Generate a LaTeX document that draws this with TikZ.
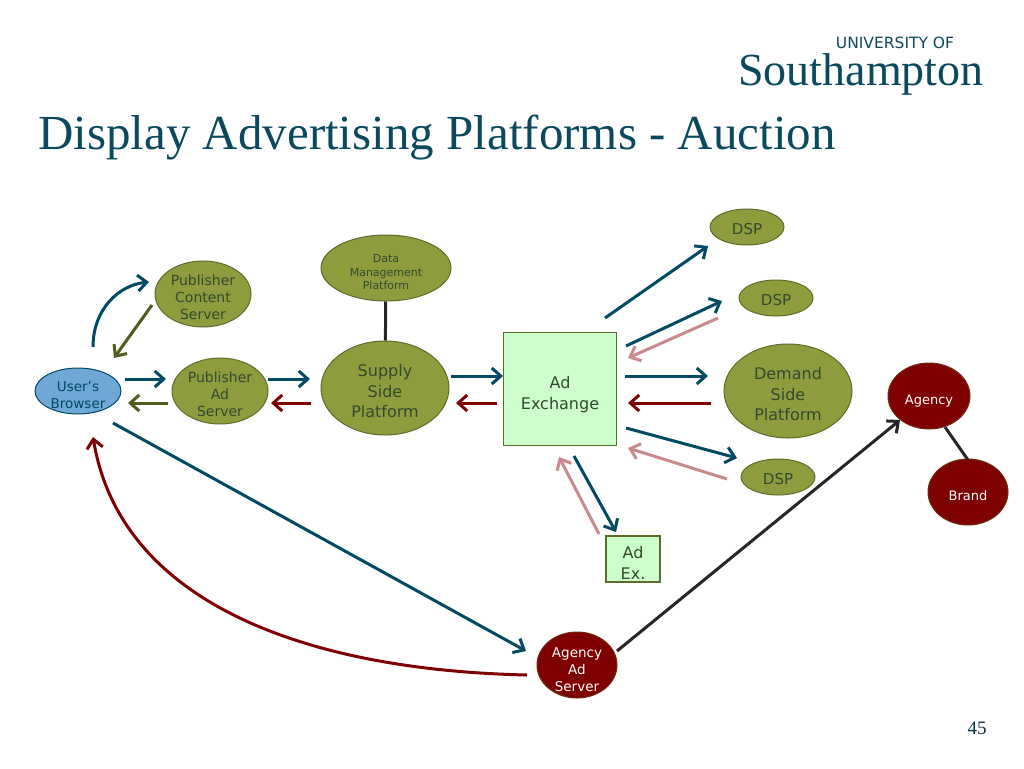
\documentclass[tikz,border=0pt]{standalone}
\usepackage{amsmath}
\usepackage{amssymb}
\usepackage{xcolor}
\usepackage{fontspec}
\setmainfont{DejaVu Sans}
\newfontfamily\titlefont{Liberation Serif}
\usetikzlibrary{shapes.geometric,arrows.meta}
\definecolor{tealline}{HTML}{004B63}
\definecolor{oliveline}{HTML}{4F5B1F}
\definecolor{redline}{HTML}{7F0000}
\definecolor{pinkline}{HTML}{C98A8E}
\definecolor{olivefill}{HTML}{8E9C3E}
\definecolor{oliveedge}{HTML}{5E6B2A}
\definecolor{bluefill}{HTML}{6FA8D6}
\definecolor{greenfill}{HTML}{CCFFCC}
\definecolor{nodetext}{HTML}{34492F}
\definecolor{titletext}{HTML}{0B4A5E}
\newcommand{\textdrop}[1]{\rule{0pt}{#1em}}
\tikzset{
  >={Straight Barb[length=9pt,width=16pt,line width=3pt]},
  arrowline/.style={->,line width=3pt},
  oval/.style={ellipse,draw=oliveedge,fill=olivefill,line width=1pt,inner xsep=0pt,inner ysep=-8pt,align=center,text=nodetext},
  redoval/.style={oval,draw=oliveedge!40!redline,fill=redline,text=white},
  box/.style={rectangle,draw=oliveedge,fill=greenfill,line width=1.3pt,inner sep=0pt,align=center,text=nodetext},
  nodesize/.style n args={4}{minimum width=#1pt,minimum height=#2pt,font=\fontsize{#3}{#4}\selectfont},
}
\begin{document}
\begin{tikzpicture}[x=1pt,y=-1pt]
      \useasboundingbox [fill=white] (0,0) rectangle (1024,768);
      \node (logotop) at (895,43) [text=titletext,inner sep=0pt,font=\fontsize{15.5}{18}\selectfont] {UNIVERSITY OF};
      \node (logomain) at (861,74) [text=titletext,inner sep=0pt,font=\titlefont\fontsize{46}{48}\selectfont] {Southampton};
      \node (title) at (38,138) [anchor=west,inner sep=0pt,text=titletext,font=\titlefont\fontsize{49}{51}\selectfont] {Display Advertising Platforms - Auction};
      \node (pagenum) at (977,728) [text=titletext!70!black,font=\titlefont\fontsize{19}{20}\selectfont] {45};

      \node (browser) at (78,391) [oval,fill=bluefill,draw=tealline,nodesize={86}{46}{13.5}{17},text=tealline] {\textdrop{1.35}User's\\Browser};
      \node (pubcontent) at (203,294) [oval,nodesize={96}{66}{14}{17}] {\textdrop{1.2}Publisher\\Content\\Server};
      \node (pubad) at (220,391) [oval,nodesize={96}{66}{14}{17}] {\textdrop{1.2}Publisher\\Ad\\Server};
      \node (dmp) at (386,268) [oval,nodesize={130}{66}{11}{13.5}] {\textdrop{1.5}Data\\Management\\Platform};
      \node (ssp) at (385,388) [oval,nodesize={128}{94}{16}{20.5}] {\textdrop{1.15}Supply\\Side\\Platform};
      \node (adx) at (560,389) [box,nodesize={113}{113}{16}{21}] {\textdrop{1.5}Ad\\Exchange};
      \node (dspa) at (747,227) [oval,nodesize={74}{36}{15}{18}] {\textdrop{1}DSP};
      \node (dspb) at (776,298) [oval,nodesize={74}{36}{15}{18}] {\textdrop{1}DSP};
      \node (dspc) at (778,477) [oval,nodesize={74}{36}{15}{18}] {\textdrop{1}DSP};
      \node (demand) at (788,391) [oval,nodesize={128}{94}{16}{20.5}] {\textdrop{1.15}Demand\\Side\\Platform};
      \node (agency) at (929,396) [redoval,nodesize={82}{66}{13}{17}] {\textdrop{1.5}Agency};
      \node (brand) at (968,492) [redoval,nodesize={80}{66}{13}{17}] {\textdrop{1.25}Brand};
      \node (adexb) at (633,559) [box,nodesize={54}{46}{16}{21}] {\textdrop{1.25}Ad\\Ex.};
      \node (agencyad) at (577,665) [redoval,nodesize={80}{66}{13.5}{17}] {\textdrop{1.35}Agency\\Ad\\Server};

      \draw [line width=3pt,black!85] (dmp) -- (ssp);
      \draw [line width=3pt,black!85] ([shift={(16,31)}]agency.center) -- ([shift={(0,-32)}]brand.center);

      \draw [arrowline,tealline] ([shift={(15,-44)}]browser.center) .. controls +(0,-38) and +(-30,3) .. ([shift={(-54,-12)}]pubcontent.center);
      \draw [arrowline,oliveline] ([shift={(-51,11)}]pubcontent.center) -- ([shift={(36,-33)}]browser.center);
      \draw [arrowline,tealline] ([shift={(47,-12)}]browser.center) -- ([shift={(-54,-12)}]pubad.center);
      \draw [arrowline,oliveline] ([shift={(-52,12)}]pubad.center) -- ([shift={(50,12)}]browser.center);
      \draw [arrowline,tealline] ([shift={(48,-12)}]pubad.center) -- ([shift={(-75,-9)}]ssp.center);
      \draw [arrowline,redline] ([shift={(-74,15)}]ssp.center) -- ([shift={(51,12)}]pubad.center);
      \draw [arrowline,tealline] ([shift={(66,-12)}]ssp.center) -- ([shift={(-57,-13)}]adx.center);
      \draw [arrowline,redline] ([shift={(-63,14)}]adx.center) -- ([shift={(71,15)}]ssp.center);

      \draw [arrowline,tealline] ([shift={(45,-71)}]adx.center) -- ([shift={(-39,19)}]dspa.center);
      \draw [arrowline,tealline] ([shift={(66,-43)}]adx.center) -- ([shift={(-54,3)}]dspb.center);
      \draw [arrowline,pinkline] ([shift={(-58,20)}]dspb.center) -- ([shift={(68,-31)}]adx.center);
      \draw [arrowline,tealline] ([shift={(65,-13)}]adx.center) -- ([shift={(-80,-15)}]demand.center);
      \draw [arrowline,redline] ([shift={(-77,12)}]demand.center) -- ([shift={(68,14)}]adx.center);
      \draw [arrowline,tealline] ([shift={(66,39)}]adx.center) -- ([shift={(-41,-19)}]dspc.center);
      \draw [arrowline,pinkline] ([shift={(-51,2)}]dspc.center) -- ([shift={(68,59)}]adx.center);
      \draw [arrowline,tealline] ([shift={(14,67)}]adx.center) -- ([shift={(-17,-27)}]adexb.center);
      \draw [arrowline,pinkline] ([shift={(-34,-25)}]adexb.center) -- ([shift={(-1,68)}]adx.center);

      \draw [arrowline,tealline] ([shift={(35,32)}]browser.center) -- ([shift={(-51,-14)}]agencyad.center);
      \draw [arrowline,redline] ([shift={(-50,10)}]agencyad.center) .. controls +(-227,-5) and +(27,163) .. ([shift={(15,46)}]browser.center);
      \draw [arrowline,black!85] ([shift={(40,-14)}]agencyad.center) -- ([shift={(-29,24)}]agency.center);
    \end{tikzpicture}
\end{document}
